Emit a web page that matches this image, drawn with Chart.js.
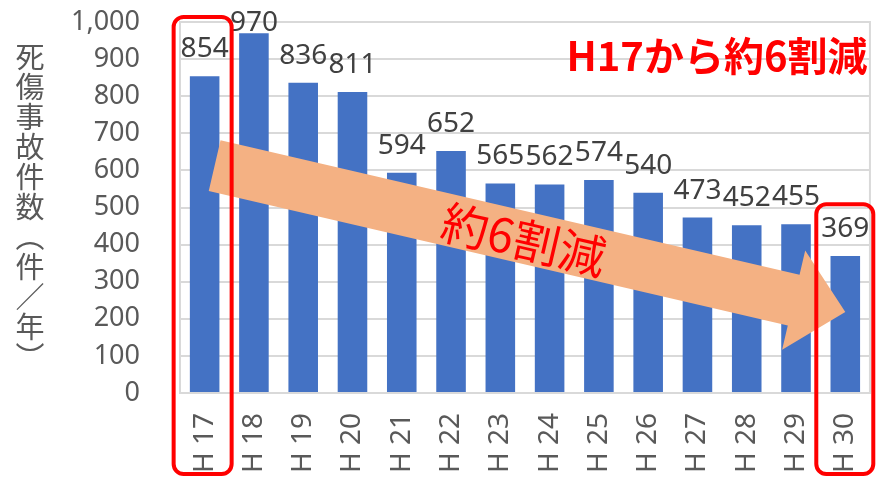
<!DOCTYPE html>
<html>
<head>
<meta charset="utf-8">
<script src="https://cdn.jsdelivr.net/npm/chart.js@4/dist/chart.umd.min.js"></script>
<style>
  html, body { margin: 0; padding: 0; background: #fff; }
</style>
</head>
<body>
<canvas id="myChart" width="891" height="477"></canvas>
<script>
    const labels = ['H 17', 'H 18', 'H 19', 'H 20', 'H 21', 'H 22', 'H 23', 'H 24', 'H 25', 'H 26', 'H 27', 'H 28', 'H 29', 'H 30'];
    const accidents = [854, 970, 836, 811, 594, 652, 565, 562, 574, 540, 473, 452, 455, 369];
    const yTicks = [0, 100, 200, 300, 400, 500, 600, 700, 800, 900, 1000];
    const yTitle = ['死', '傷', '事', '故', '件', '数', '︵', '件', '／', '年', '︶'];
    const headline = 'H17から約6割減';
    const arrowText = '約6割減';

    const jp = '"Noto Sans CJK JP", "Noto Sans", sans-serif';
    const num = '"Noto Sans", "Noto Sans CJK JP", sans-serif';

    //枠線
    const framePlugin = {
        id: 'frame',
        beforeDatasetsDraw(chart) {
            const a = chart.chartArea, ctx = chart.ctx;
            ctx.save();
            ctx.strokeStyle = '#d9d9d9';
            ctx.lineWidth = 2;
            ctx.strokeRect(a.left, a.top, a.right - a.left, a.bottom - a.top);
            ctx.restore();
        }
    };

    //矢印 + 数値ラベル + 赤枠 + 文字
    const decoPlugin = {
        id: 'deco',
        afterDatasetsDraw(chart) {
            const ctx = chart.ctx;
            const x = chart.scales.x, y = chart.scales.y;

            // 矢印
            const x0 = x.getPixelForValue(0) + 10, y0 = y.getPixelForValue(613);
            const x1 = x.getPixelForValue(13), y1 = y.getPixelForValue(218);
            const ang = Math.atan2(y1 - y0, x1 - x0);
            const len = Math.hypot(x1 - x0, y1 - y0);
            const hw = 26, headW = 51, headL = 53;
            ctx.save();
            ctx.translate(x0, y0);
            ctx.rotate(ang);
            ctx.fillStyle = '#f4b183';
            ctx.beginPath();
            ctx.moveTo(0, -hw);
            ctx.lineTo(len - headL, -hw);
            ctx.lineTo(len - headL, -headW);
            ctx.lineTo(len, 0);
            ctx.lineTo(len - headL, headW);
            ctx.lineTo(len - headL, hw);
            ctx.lineTo(0, hw);
            ctx.closePath();
            ctx.fill();
            // 矢印の文字
            ctx.fillStyle = '#ff0000';
            ctx.font = '47px ' + jp;
            ctx.textAlign = 'center';
            ctx.textBaseline = 'middle';
            ctx.fillText(arrowText, 318, 2);
            ctx.restore();

            // 数値ラベル（上端からはみ出さないように）
            const meta = chart.getDatasetMeta(0);
            ctx.save();
            ctx.fillStyle = '#404040';
            ctx.font = '28px ' + num;
            ctx.textAlign = 'center';
            ctx.textBaseline = 'alphabetic';
            meta.data.forEach((bar, i) => {
                ctx.fillText(accidents[i], bar.x, Math.max(bar.y - 19, 31));
            });
            ctx.restore();

            // 赤枠
            ctx.save();
            ctx.strokeStyle = '#ff0000';
            ctx.lineWidth = 4;
            const box = (cx, top, bottom, l, r) => {
                ctx.beginPath();
                ctx.roundRect(cx - l, top, l + r, bottom - top, 10);
                ctx.stroke();
            };
            box(x.getPixelForValue(0), 17, 474, 31, 27);
            box(x.getPixelForValue(13), y.getPixelForValue(509), 474, 29, 28);
            ctx.restore();

            // 見出し
            ctx.save();
            ctx.fillStyle = '#ff0000';
            ctx.font = 'bold 40px ' + jp;
            ctx.textAlign = 'center';
            ctx.textBaseline = 'middle';
            ctx.fillText(headline, 717, 56);
            ctx.restore();

            // 縦書きの軸タイトル
            ctx.save();
            ctx.fillStyle = '#595959';
            ctx.font = '29px ' + jp;
            ctx.textAlign = 'center';
            ctx.textBaseline = 'middle';
            yTitle.forEach((c, i) => ctx.fillText(c, 30, 57 + i * 30));
            ctx.restore();
        }
    };

    const data = {
        labels: labels,
        datasets: [{
            label: '死傷事故件数',
            backgroundColor: '#4472c4',
            borderWidth: 0,
            data: accidents,
            barPercentage: 0.6,
            categoryPercentage: 1.0
        }]
    };

    const config = {
        type: 'bar',
        data: data,
        options: {
            responsive: false,
            animation: false,
            layout: { padding: { top: 22, right: 3, left: 0, bottom: 0 } },
            plugins: {
                legend: { display: false },
                tooltip: { enabled: false }
            },
            scales: {
                x: {
                    grid: { display: false },
                    border: { display: false },
                    ticks: {
                        color: '#595959',
                        font: { size: 28, family: num },
                        minRotation: 90,
                        maxRotation: 90,
                        padding: 12
                    },
                    afterFit(scale) { scale.height = 84; }
                },
                y: {
                    min: 0,
                    max: 1000,
                    afterBuildTicks(scale) { scale.ticks = yTicks.map(v => ({ value: v })); },
                    // 目盛り線は透明にして、ラベルと枠の間隔だけに使う
                    grid: { color: '#d9d9d9', lineWidth: 2, drawTicks: true, tickLength: 40, tickColor: 'rgba(0,0,0,0)' },
                    border: { display: false },
                    ticks: {
                        autoSkip: false,
                        color: '#595959',
                        font: { size: 27, family: num },
                        padding: 0,
                        callback: v => v.toLocaleString('en-US')
                    },
                    afterFit(scale) { scale.width = 180; }
                }
            }
        },
        plugins: [framePlugin, decoPlugin]
    };

    const myChart = new Chart(
        document.getElementById('myChart'),
        config
    );
</script>
</body>
</html>
